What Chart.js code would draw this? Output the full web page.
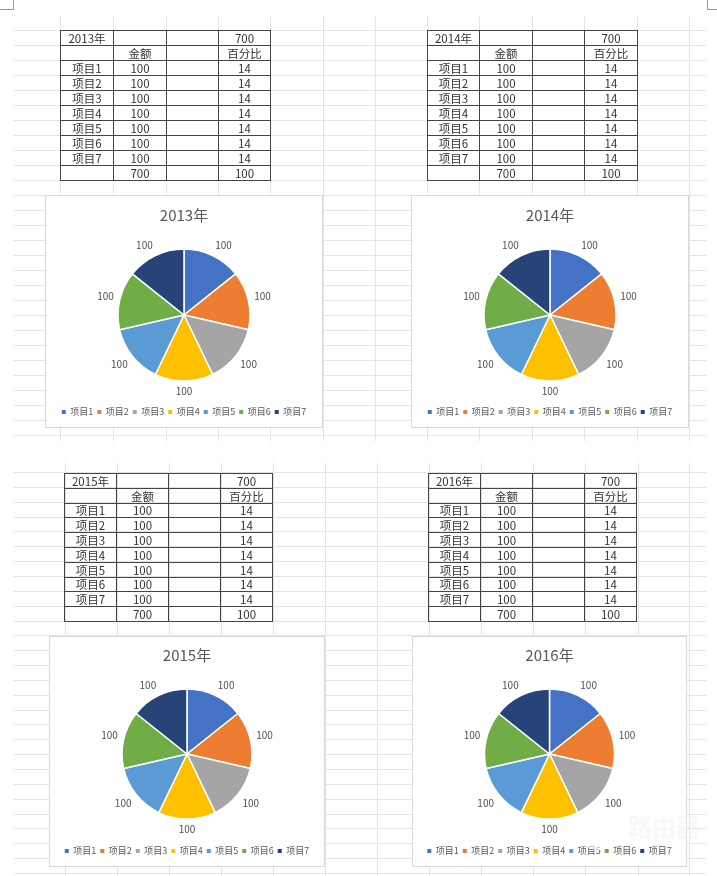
<!DOCTYPE html>
<html>
<head>
<meta charset="utf-8">
<script src="https://cdn.jsdelivr.net/npm/chart.js@4.4.1/dist/chart.umd.min.js"></script>
<style>
body { margin: 0; width: 717px; height: 876px; overflow: hidden; background: #fff; position: relative; font-family: "Noto Sans CJK SC", sans-serif; }
#grid { position: absolute; left: 0; top: 0; }
.cell { position: absolute; box-sizing: border-box; border: 1px solid #444; text-align: center; font-size: 11.5px; color: #333; white-space: nowrap; }
.box { position: absolute; background: #fff; box-shadow: inset 0 0 0 1px #d9d9d9; }
.box canvas { position: absolute; left: 0; top: 0; }
.wm { position: absolute; left: 576px; top: 806px; width: 44px; height: 44px; border-radius: 50%; background: rgba(255,255,255,0.55); }
.wmt { position: absolute; left: 628px; top: 808px; font-size: 24px; color: rgba(255,255,255,0.75); text-shadow: 0 0 1px rgba(0,0,0,0.12); }
</style>
</head>
<body>
<canvas id="grid" width="717" height="876"></canvas>
<div id="sheet"></div>
<div class="box" style="left:45px;top:195px;width:278px;height:233px"><canvas id="pie2013" width="278" height="233"></canvas></div>
<div class="box" style="left:411px;top:195px;width:278px;height:233px"><canvas id="pie2014" width="278" height="233"></canvas></div>
<div class="box" style="left:49px;top:636px;width:276px;height:231px"><canvas id="pie2015" width="276" height="231"></canvas></div>
<div class="box" style="left:412px;top:636px;width:275px;height:231px"><canvas id="pie2016" width="275" height="231"></canvas></div>
<div class="wm"></div>
<div class="wmt">路由器</div>
<script>
const FONT = '"Noto Sans CJK SC", sans-serif';

// data
const items = ['项目1', '项目2', '项目3', '项目4', '项目5', '项目6', '项目7'];
const years = ['2013年', '2014年', '2015年', '2016年'];
const amounts2013 = [100, 100, 100, 100, 100, 100, 100];
const amounts2014 = [100, 100, 100, 100, 100, 100, 100];
const amounts2015 = [100, 100, 100, 100, 100, 100, 100];
const amounts2016 = [100, 100, 100, 100, 100, 100, 100];
const percents2013 = [14, 14, 14, 14, 14, 14, 14];
const percents2014 = [14, 14, 14, 14, 14, 14, 14];
const percents2015 = [14, 14, 14, 14, 14, 14, 14];
const percents2016 = [14, 14, 14, 14, 14, 14, 14];
const totals = [700, 700, 700, 700];
const percentTotals = [100, 100, 100, 100];
const colors = ['#4472C4', '#ED7D31', '#A5A5A5', '#FFC000', '#5B9BD5', '#70AD47', '#264478'];

// spreadsheet grid behind everything
const g = document.getElementById('grid').getContext('2d');
g.strokeStyle = '#e4e4e4';
g.lineWidth = 1;
function vline(x, y1, y2) { g.beginPath(); g.moveTo(x + 0.5, y1); g.lineTo(x + 0.5, y2); g.stroke(); }
function hline(y, x1, x2) { g.beginPath(); g.moveTo(x1, y + 0.5); g.lineTo(x2, y + 0.5); g.stroke(); }
[60, 113, 166, 218, 270, 323, 375, 427, 479, 532, 584, 637, 689].forEach(x => vline(x, 17, 441));
for (let y = 30; y <= 436; y += 15) hline(y, 14, 706);
[65, 117, 169, 221, 273, 325, 377, 429, 481, 533, 585, 638, 689].forEach(x => vline(x, 463, 876));
for (let y = 472; y <= 876; y += 14.85) hline(Math.round(y), 14, 706);
g.strokeStyle = '#9a9a9a';
vline(13, 0, 9); hline(9, 0, 14);
vline(707, 0, 9); hline(9, 707, 717);

// the four little tables
const sheet = document.getElementById('sheet');
function makeTable(cols, top, rowH, year, amounts, percents, total, pctTotal) {
  const rows = [[year, '', '', total], ['', '金额', '', '百分比']];
  items.forEach((it, i) => rows.push([it, amounts[i], '', percents[i]]));
  rows.push(['', total, '', pctTotal]);
  rows.forEach((r, ri) => {
    const y1 = Math.round(top + ri * rowH), y2 = Math.round(top + (ri + 1) * rowH);
    r.forEach((txt, ci) => {
      const d = document.createElement('div');
      d.className = 'cell';
      d.style.left = cols[ci] + 'px';
      d.style.top = y1 + 'px';
      d.style.width = (cols[ci + 1] - cols[ci] + 1) + 'px';
      d.style.height = (y2 - y1 + 1) + 'px';
      d.style.lineHeight = (y2 - y1 - 1) + 'px';
      d.textContent = txt;
      sheet.appendChild(d);
    });
  });
}
makeTable([60, 113, 166, 218, 270], 30, 15, years[0], amounts2013, percents2013, totals[0], percentTotals[0]);
makeTable([427, 479, 532, 584, 637], 30, 15, years[1], amounts2014, percents2014, totals[1], percentTotals[1]);
makeTable([64, 116, 168, 220, 272], 473, 14.8, years[2], amounts2015, percents2015, totals[2], percentTotals[2]);
makeTable([428, 480, 532, 584, 636], 473, 14.8, years[3], amounts2016, percents2016, totals[3], percentTotals[3]);

// value labels just outside each slice (box pushed off the edge like Excel does)
const clamp = v => Math.max(-1, Math.min(1, v));
const pieLabels = {
  id: 'pieLabels',
  afterDatasetsDraw(chart) {
    const ctx = chart.ctx;
    const values = chart.data.datasets[0].data;
    ctx.save();
    ctx.font = '10px ' + FONT;
    ctx.fillStyle = '#505050';
    ctx.textAlign = 'center';
    ctx.textBaseline = 'middle';
    chart.getDatasetMeta(0).data.forEach((arc, i) => {
      const p = arc.getProps(['x', 'y', 'startAngle', 'endAngle', 'outerRadius']);
      const mid = (p.startAngle + p.endAngle) / 2;
      const dx = Math.cos(mid), dy = Math.sin(mid);
      const txt = String(values[i]);
      const w = ctx.measureText(txt).width;
      const r = p.outerRadius + 6;
      const x = p.x + dx * r + w / 2 * clamp(dx * 3);
      const y = p.y + dy * r + 4.5 * clamp(dy * 3);
      ctx.fillText(txt, x, y);
    });
    ctx.restore();
  }
};

function makePie(id, title, values, o) {
  const legendTop = o.lc - 8.5;
  new Chart(document.getElementById(id), {
    type: 'pie',
    data: {
      labels: items,
      datasets: [{
        data: values,
        backgroundColor: colors,
        borderColor: '#fff',
        borderWidth: 1.5,
        radius: o.r
      }]
    },
    options: {
      responsive: false,
      animation: false,
      layout: { padding: { top: 0, bottom: o.h - o.lc - 14.5, left: 0, right: 0 } },
      plugins: {
        title: {
          display: true,
          text: title,
          color: '#595959',
          font: { size: 15, family: FONT, weight: 'normal' },
          padding: { top: o.tc - 9, bottom: 2 * o.pc - legendTop - o.tc - 9 }
        },
        legend: {
          position: 'bottom',
          labels: {
            boxWidth: 4,
            boxHeight: 4,
            padding: 4,
            color: '#595959',
            font: { size: 9, family: FONT },
            generateLabels: (chart) => chart.data.labels.map((l, i) => ({
              text: l, fillStyle: colors[i], strokeStyle: colors[i], lineWidth: 0, index: i, fontColor: '#595959'
            }))
          }
        },
        tooltip: { enabled: false }
      }
    },
    plugins: [pieLabels]
  });
}

makePie('pie2013', years[0], amounts2013, { h: 233, tc: 20, pc: 120, lc: 217, r: 66 });
makePie('pie2014', years[1], amounts2014, { h: 233, tc: 20, pc: 120, lc: 217, r: 66 });
makePie('pie2015', years[2], amounts2015, { h: 231, tc: 19, pc: 118, lc: 215, r: 65 });
makePie('pie2016', years[3], amounts2016, { h: 231, tc: 19, pc: 118, lc: 215, r: 65 });
</script>
</body>
</html>
